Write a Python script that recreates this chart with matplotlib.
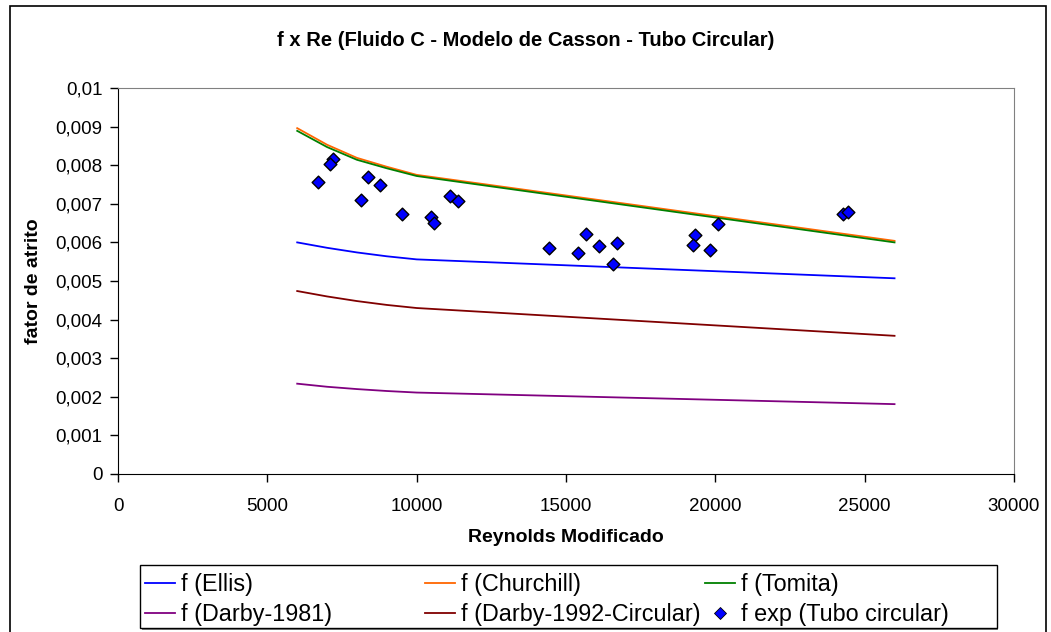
import matplotlib
matplotlib.use('Agg')
import matplotlib.pyplot as plt
from matplotlib.patches import Rectangle
from matplotlib.lines import Line2D
from matplotlib.ticker import FuncFormatter, MultipleLocator

plt.rcParams['font.family'] = ['Liberation Sans', 'DejaVu Sans']

# model curves (Reynolds modificado x fator de atrito)
re_model = [6000, 7000, 8000, 9000, 10000, 26000]
f_ellis = [0.00600, 0.00586, 0.00574, 0.00564, 0.00556, 0.00507]
f_churchill = [0.00896, 0.00853, 0.00819, 0.00796, 0.00775, 0.00604]
f_tomita = [0.00889, 0.00847, 0.00814, 0.00792, 0.00772, 0.00600]
f_darby81 = [0.00234, 0.00226, 0.00220, 0.00215, 0.00211, 0.00181]
f_darby92 = [0.00474, 0.00460, 0.00448, 0.00438, 0.00430, 0.00358]

# experimental points
re_exp = [6686, 7188, 7109, 8381, 8761, 8125, 9509, 10469, 10570, 11126, 11384,
          14431, 15659, 15413, 16095, 16708, 16585,
          19330, 19263, 19832, 20090, 24263, 24430]
f_exp = [0.00757, 0.00817, 0.00803, 0.00770, 0.00749, 0.00711, 0.00674, 0.00666, 0.00650, 0.00721, 0.00707,
         0.00585, 0.00622, 0.00572, 0.00590, 0.00599, 0.00543,
         0.00618, 0.00592, 0.00581, 0.00648, 0.00673, 0.00678]

W, H = 1051, 632
fig = plt.figure(figsize=(W/100, H/100), dpi=100)
ax = fig.add_axes([118/W, 1 - 474/H, (1014 - 118)/W, (474 - 88)/H])

l_ellis, = ax.plot(re_model, f_ellis, color='#0000FF', lw=1.3, label='f (Ellis)')
l_church, = ax.plot(re_model, f_churchill, color='#FF6600', lw=1.3, label='f (Churchill)')
l_tomita, = ax.plot(re_model, f_tomita, color='#008000', lw=1.3, label='f (Tomita)')
l_d81, = ax.plot(re_model, f_darby81, color='#800080', lw=1.3, label='f (Darby-1981)')
l_d92, = ax.plot(re_model, f_darby92, color='#800000', lw=1.3, label='f (Darby-1992-Circular)')
ax.scatter(re_exp, f_exp, marker='D', s=42, color='#0000FF', edgecolors='black',
           linewidths=1.0, zorder=5)
h_exp = Line2D([], [], ls='none', marker='D', markersize=6, markerfacecolor='#0000FF',
               markeredgecolor='black', markeredgewidth=0.6, label='f exp (Tubo circular)')

ax.set_xlim(0, 30000)
ax.set_ylim(0, 0.01)
ax.xaxis.set_major_locator(MultipleLocator(5000))
ax.yaxis.set_major_locator(MultipleLocator(0.001))
ax.yaxis.set_major_formatter(FuncFormatter(lambda v, p: '{:g}'.format(round(v, 4)).replace('.', ',')))
ax.tick_params(labelsize=13.5, length=6, width=1, direction='out', colors='black')
ax.tick_params(axis='x', pad=11)
ax.tick_params(axis='y', pad=5)
for s in ['top', 'right']:
    ax.spines[s].set_color('#808080')
for s in ['left', 'bottom']:
    ax.spines[s].set_color('black')

ax.set_xlabel('Reynolds Modificado', fontsize=14, fontweight='bold', labelpad=10)
ax.set_ylabel('fator de atrito', fontsize=14, fontweight='bold', labelpad=10)
fig.text(0.5, 1 - 40/H, 'f x Re (Fluido C - Modelo de Casson - Tubo Circular)',
         ha='center', va='center', fontsize=14.5, fontweight='bold')

# outer chart border
fig.patches.append(Rectangle((10/W, -0.05), (1046 - 10)/W, 1.05 - 6/H,
                             transform=fig.transFigure, fill=False, edgecolor='black', lw=1.2))

# legend: frame + three columns, filled row by row
fig.patches.append(Rectangle((142/W, 1 - 630/H), (998 - 142)/W, (630 - 566)/H,
                             transform=fig.transFigure, facecolor='#808080', edgecolor='none', zorder=1))
fig.patches.append(Rectangle((140/W, 1 - 628/H), (997 - 140)/W, (628 - 565)/H,
                             transform=fig.transFigure, facecolor='white', edgecolor='black', lw=1.0, zorder=2))
columns = [([l_ellis, l_d81], 145), ([l_church, l_d92], 425), ([l_tomita, h_exp], 705)]
for handles, x0 in columns:
    leg = fig.legend(handles=handles, loc='upper left', bbox_to_anchor=(x0/W, 1 - 573/H),
                     frameon=False, fontsize=16.8, handlelength=1.3, handletextpad=0.25,
                     borderpad=0, borderaxespad=0, labelspacing=0.3)
    leg.set_zorder(3)

fig.savefig('out.png', dpi=100)
